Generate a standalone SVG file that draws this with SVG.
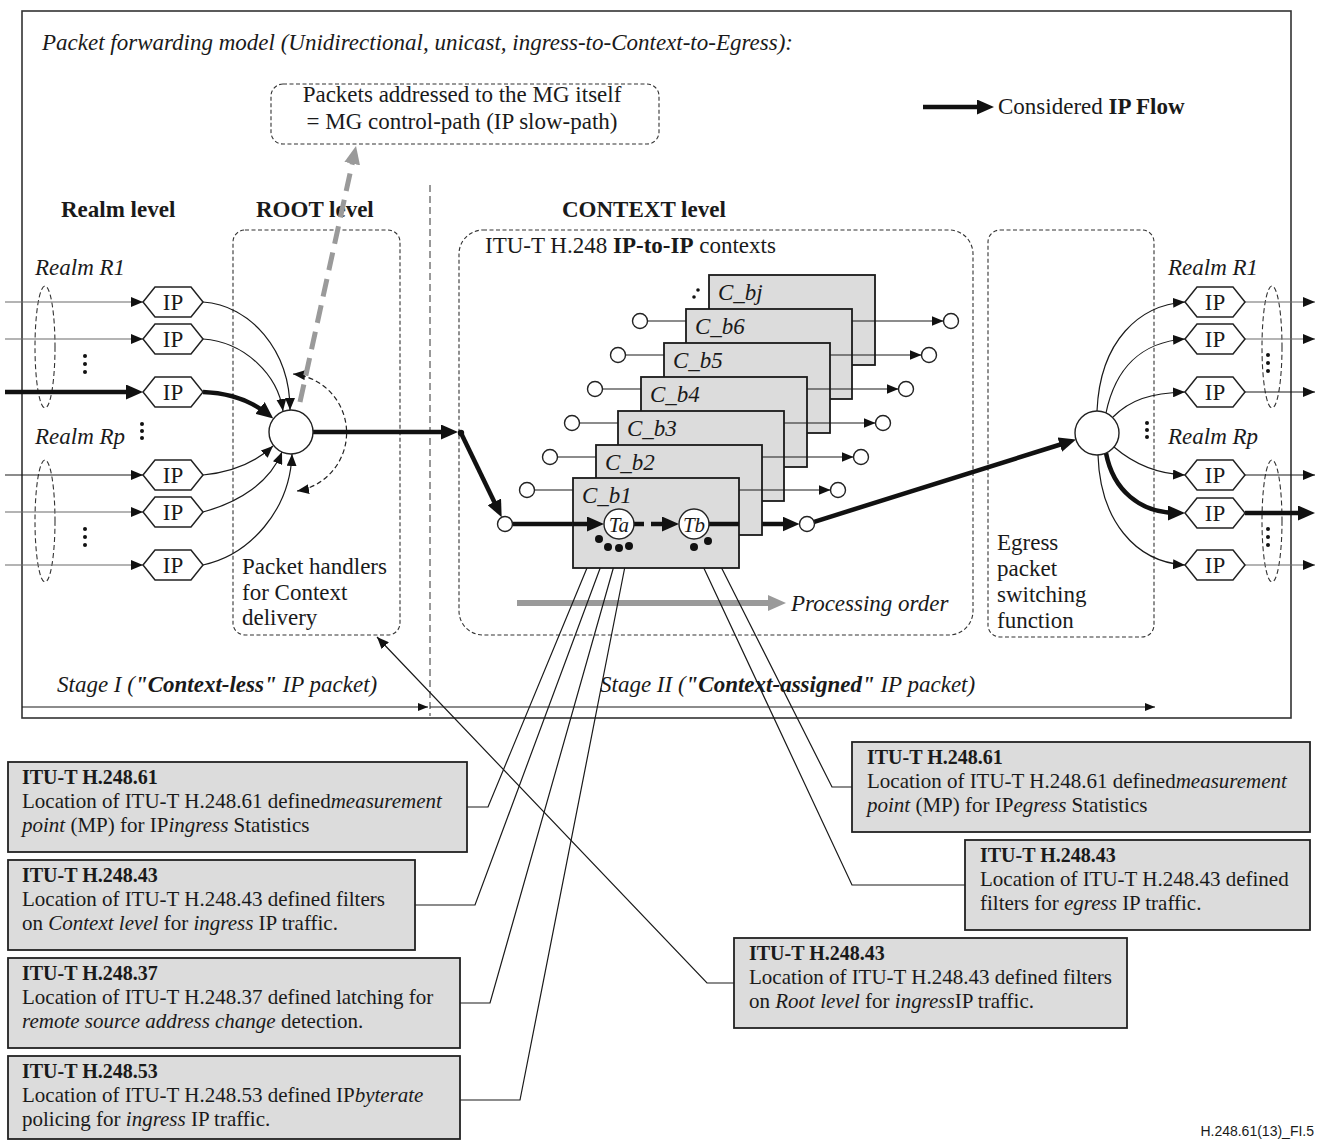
<svg xmlns="http://www.w3.org/2000/svg" width="1317" height="1142" viewBox="0 0 1317 1142">
<defs>
<style>
text{font-family:"Liberation Serif","Times New Roman",serif;fill:#1a1a1a}
.f{font-size:23px}
.s{font-size:21px}
.h{font-size:20px;font-weight:bold}
.i{font-style:italic}
.b{font-weight:bold}
.ln{fill:none;stroke:#1a1a1a;stroke-width:1.2}
.gr{stroke:#6a6a6a}
.tk{fill:none;stroke:#111;stroke-width:4.5}
.dsh{fill:none;stroke:#222;stroke-width:1.2;stroke-dasharray:5 3}
.hex{fill:#fff;stroke:#222;stroke-width:1.5}
.ctx{fill:#dcdcdc;stroke:#1a1a1a;stroke-width:1.8}
.note{fill:#dcdcdc;stroke:#222;stroke-width:1.8}
.pc{fill:#fff;stroke:#222;stroke-width:1.4}
.dot{fill:#111}
</style>
<marker id="a" viewBox="0 0 12 10" refX="12" refY="5" markerWidth="12" markerHeight="10" markerUnits="userSpaceOnUse" orient="auto-start-reverse"><path d="M0,0L12,5L0,10z" fill="#111"/></marker>
<marker id="as" viewBox="0 0 10 8" refX="10" refY="4" markerWidth="10" markerHeight="8" markerUnits="userSpaceOnUse" orient="auto"><path d="M0,0L10,4L0,8z" fill="#111"/></marker>
<marker id="ak" viewBox="0 0 17 15" refX="9" refY="7.5" markerWidth="17" markerHeight="15" markerUnits="userSpaceOnUse" orient="auto"><path d="M0,0L17,7.5L0,15z" fill="#111"/></marker>
<marker id="ag" viewBox="0 0 18 16" refX="9" refY="8" markerWidth="18" markerHeight="16" markerUnits="userSpaceOnUse" orient="auto"><path d="M0,0L18,8L0,16z" fill="#9a9a9a"/></marker>
</defs>
<rect width="1317" height="1142" fill="#fff"/>

<!-- frame -->
<rect x="22" y="11" width="1269" height="707" fill="none" stroke="#333" stroke-width="1.6"/>
<line x1="430" y1="185" x2="430" y2="716" stroke="#333" stroke-width="1" stroke-dasharray="7 4"/>

<!-- headings -->
<text x="42" y="50" class="f i">Packet forwarding model (Unidirectional, unicast, ingress-to-Context-to-Egress):</text>
<text x="61" y="217" class="f b">Realm level</text>
<text x="256" y="217" class="f b">ROOT level</text>
<text x="562" y="217" class="f b">CONTEXT level</text>
<text x="35" y="275" class="f i">Realm R1</text>
<text x="35" y="444" class="f i">Realm Rp</text>
<text x="1168" y="275" class="f i">Realm R1</text>
<text x="1168" y="444" class="f i">Realm Rp</text>

<!-- legend -->
<g id="legend">
<line x1="923" y1="107" x2="986" y2="107" class="tk" marker-end="url(#ak)"/>
<text x="998" y="114" class="f">Considered <tspan class="b">IP Flow</tspan></text>
</g>

<!-- control-path box -->
<g id="mgControl">
<rect x="271" y="84" width="388" height="60" rx="12" fill="none" stroke="#333" stroke-width="1.1" stroke-dasharray="4 2.5"/>
<text x="462" y="102" class="f" text-anchor="middle">Packets addressed to the MG itself</text>
<text x="462" y="129" class="f" text-anchor="middle">= MG control-path (IP slow-path)</text>
</g>

<!-- level boxes -->
<g id="rootBox">
<rect x="233" y="230" width="167" height="405" rx="12" fill="none" stroke="#333" stroke-width="1.1" stroke-dasharray="4 2.5"/>
<text x="242" y="574" class="f">Packet handlers</text>
<text x="242" y="600" class="f">for Context</text>
<text x="242" y="625" class="f">delivery</text>
</g>
<g id="contextBox">
<rect x="459" y="230" width="514" height="405" rx="24" fill="none" stroke="#333" stroke-width="1.1" stroke-dasharray="4 2.5"/>
<text x="485" y="253" class="f">ITU-T H.248 <tspan class="b">IP-to-IP</tspan> contexts</text>
</g>
<g id="egressBox">
<rect x="988" y="230" width="166" height="407" rx="12" fill="none" stroke="#333" stroke-width="1.1" stroke-dasharray="4 2.5"/>
<text x="997" y="550" class="f">Egress</text>
<text x="997" y="576" class="f">packet</text>
<text x="997" y="602" class="f">switching</text>
<text x="997" y="628" class="f">function</text>
</g>

<!-- realm ellipses and dots -->
<g id="realmGroups" fill="none" stroke="#333" stroke-width="1.1" stroke-dasharray="5 3">
<ellipse cx="45" cy="347" rx="10" ry="61"/>
<ellipse cx="45" cy="521" rx="10" ry="61"/>
<ellipse cx="1272" cy="347" rx="10" ry="61"/>
<ellipse cx="1272" cy="521" rx="10" ry="61"/>
</g>
<g id="ellipsisDots" class="dot">
<circle cx="85" cy="356" r="2"/><circle cx="85" cy="364" r="2"/><circle cx="85" cy="372" r="2"/>
<circle cx="85" cy="529" r="2"/><circle cx="85" cy="537" r="2"/><circle cx="85" cy="545" r="2"/>
<circle cx="142" cy="424" r="2"/><circle cx="142" cy="431" r="2"/><circle cx="142" cy="438" r="2"/>
<circle cx="1268" cy="355" r="2"/><circle cx="1268" cy="363" r="2"/><circle cx="1268" cy="371" r="2"/>
<circle cx="1268" cy="529" r="2"/><circle cx="1268" cy="537" r="2"/><circle cx="1268" cy="545" r="2"/>
<circle cx="1147" cy="423" r="2"/><circle cx="1147" cy="430" r="2"/><circle cx="1147" cy="437" r="2"/>
<circle cx="694" cy="297" r="1.8"/><circle cx="698" cy="290" r="1.8"/>
</g>

<!-- connectors -->
<g id="connectors">
<!-- left inputs -->
<line x1="5" y1="302" x2="143" y2="302" class="ln gr" marker-end="url(#a)"/>
<line x1="5" y1="339" x2="143" y2="339" class="ln gr" marker-end="url(#a)"/>
<line x1="5" y1="392" x2="135" y2="392" class="tk" marker-end="url(#ak)"/>
<line x1="5" y1="475" x2="143" y2="475" class="ln" marker-end="url(#a)"/>
<line x1="5" y1="512" x2="143" y2="512" class="ln gr" marker-end="url(#a)"/>
<line x1="5" y1="565" x2="143" y2="565" class="ln gr" marker-end="url(#a)"/>
<!-- left hex to root handler -->
<path d="M203,302 C250,305 290,350 290,410" class="ln" marker-end="url(#a)"/>
<path d="M203,339 C245,342 278,375 283,411" class="ln" marker-end="url(#a)"/>
<path d="M203,392 C228,393 250,400 267,413.6" class="tk" marker-end="url(#ak)"/>
<path d="M203,475 C235,472 258,460 273,446" class="ln" marker-end="url(#a)"/>
<path d="M203,512 C240,502 270,482 282,452" class="ln" marker-end="url(#a)"/>
<path d="M203,565 C250,555 290,510 292,454" class="ln" marker-end="url(#a)"/>
<!-- dashed loop around root handler -->
<path d="M293,374 A59,59 0 0 1 297,491" class="dsh" marker-start="url(#a)" marker-end="url(#a)"/>
<!-- slow path -->
<line x1="300" y1="402" x2="354.1" y2="154.8" stroke="#9a9a9a" stroke-width="5" stroke-dasharray="18 9" marker-end="url(#ag)"/>
<!-- root to context -->
<line x1="313" y1="432" x2="450" y2="432" class="tk" marker-end="url(#ak)"/>
<line x1="461" y1="433" x2="498.2" y2="510" class="tk" stroke-width="3.5" marker-end="url(#ak)"/>
<!-- flow through C_b1 -->
<line x1="512.5" y1="524" x2="596" y2="524" class="tk" marker-end="url(#ak)"/>
<line x1="634" y1="524" x2="644" y2="524" class="tk"/>
<line x1="651" y1="524" x2="671" y2="524" class="tk" marker-end="url(#ak)"/>
<line x1="709" y1="524" x2="791.5" y2="524" class="tk" marker-end="url(#ak)"/>
<line x1="814.2" y1="521.8" x2="1068.4" y2="442" class="tk" stroke-width="3.5" marker-end="url(#ak)"/>
<!-- egress to right hexes -->
<path d="M1097,411 C1100,340 1140,305 1185,302" class="ln" marker-end="url(#a)"/>
<path d="M1106,413 C1115,370 1140,342 1185,339" class="ln" marker-end="url(#a)"/>
<path d="M1113,417 C1130,400 1150,393 1185,392" class="ln" marker-end="url(#a)"/>
<path d="M1114,447 C1135,465 1160,474 1185,475" class="ln" marker-end="url(#a)"/>
<path d="M1106,453 C1113,490 1140,513 1177,513" class="tk" stroke-width="3.5" marker-end="url(#ak)"/>
<path d="M1098,455 C1100,520 1135,562 1185,565" class="ln" marker-end="url(#a)"/>
<!-- right outputs -->
<line x1="1245" y1="302" x2="1315" y2="302" class="ln gr" marker-end="url(#a)"/>
<line x1="1245" y1="339" x2="1315" y2="339" class="ln gr" marker-end="url(#a)"/>
<line x1="1245" y1="392" x2="1315" y2="392" class="ln" marker-end="url(#a)"/>
<line x1="1245" y1="475" x2="1315" y2="475" class="ln" marker-end="url(#a)"/>
<line x1="1245" y1="513" x2="1307" y2="513" class="tk" marker-end="url(#ak)"/>
<line x1="1245" y1="565" x2="1315" y2="565" class="ln gr" marker-end="url(#a)"/>
<!-- processing order -->
<line x1="517" y1="603" x2="777" y2="603" stroke="#9a9a9a" stroke-width="6" marker-end="url(#ag)"/>
<!-- stage arrows -->
<line x1="22" y1="707" x2="428" y2="707" class="ln" marker-end="url(#as)"/>
<line x1="430" y1="707" x2="1155" y2="707" class="ln" marker-end="url(#as)"/>
<!-- leaders -->
<polyline points="467,807 488,807 599,539" class="ln"/>
<polyline points="415,905 475,905 608,547" class="ln"/>
<polyline points="460,1003 490,1003 619,548" class="ln"/>
<polyline points="460,1100 520,1100 629,546" class="ln"/>
<polyline points="852,787 832,787 708,541" class="ln"/>
<polyline points="965,885 852,885 694,547" class="ln"/>
<polyline points="734,983 707,983 377,637" class="ln" marker-end="url(#a)"/>
</g>

<!-- root and egress handlers -->
<g id="rootHandler"><circle cx="291" cy="432" r="22" class="pc"/></g>
<circle cx="461" cy="433" r="3.2" class="dot"/>
<g id="egressSwitch"><circle cx="1097" cy="433" r="22" class="pc"/></g>

<!-- IP hexagons left -->
<g id="ipL1"><polygon class="hex" points="143,302 155,287 191,287 203,302 191,317 155,317"/><text x="173" y="310" class="f" text-anchor="middle">IP</text></g>
<g id="ipL2"><polygon class="hex" points="143,339 155,324 191,324 203,339 191,354 155,354"/><text x="173" y="347" class="f" text-anchor="middle">IP</text></g>
<g id="ipL3"><polygon class="hex" points="143,392 155,377 191,377 203,392 191,407 155,407"/><text x="173" y="400" class="f" text-anchor="middle">IP</text></g>
<g id="ipL4"><polygon class="hex" points="143,475 155,460 191,460 203,475 191,490 155,490"/><text x="173" y="483" class="f" text-anchor="middle">IP</text></g>
<g id="ipL5"><polygon class="hex" points="143,512 155,497 191,497 203,512 191,527 155,527"/><text x="173" y="520" class="f" text-anchor="middle">IP</text></g>
<g id="ipL6"><polygon class="hex" points="143,565 155,550 191,550 203,565 191,580 155,580"/><text x="173" y="573" class="f" text-anchor="middle">IP</text></g>
<!-- IP hexagons right -->
<g id="ipR1"><polygon class="hex" points="1185,302 1197,287 1233,287 1245,302 1233,317 1197,317"/><text x="1215" y="310" class="f" text-anchor="middle">IP</text></g>
<g id="ipR2"><polygon class="hex" points="1185,339 1197,324 1233,324 1245,339 1233,354 1197,354"/><text x="1215" y="347" class="f" text-anchor="middle">IP</text></g>
<g id="ipR3"><polygon class="hex" points="1185,392 1197,377 1233,377 1245,392 1233,407 1197,407"/><text x="1215" y="400" class="f" text-anchor="middle">IP</text></g>
<g id="ipR4"><polygon class="hex" points="1185,475 1197,460 1233,460 1245,475 1233,490 1197,490"/><text x="1215" y="483" class="f" text-anchor="middle">IP</text></g>
<g id="ipR5"><polygon class="hex" points="1185,513 1197,498 1233,498 1245,513 1233,528 1197,528"/><text x="1215" y="521" class="f" text-anchor="middle">IP</text></g>
<g id="ipR6"><polygon class="hex" points="1185,565 1197,550 1233,550 1245,565 1233,580 1197,580"/><text x="1215" y="573" class="f" text-anchor="middle">IP</text></g>

<!-- context stack (back to front) -->
<g id="ctx_bj"><rect x="709" y="275" width="166" height="90" class="ctx"/><text x="718" y="300" class="f i">C_bj</text></g>
<g id="ctx_b6"><rect x="686" y="309" width="166" height="90" class="ctx"/><text x="695" y="334" class="f i">C_b6</text>
<circle cx="640" cy="321" r="7.5" class="pc"/><line x1="647.5" y1="321" x2="686" y2="321" class="ln"/><line x1="852" y1="321" x2="943.5" y2="321" class="ln" marker-end="url(#a)"/><circle cx="951" cy="321" r="7.5" class="pc"/></g>
<g id="ctx_b5"><rect x="664" y="343" width="166" height="90" class="ctx"/><text x="673" y="368" class="f i">C_b5</text>
<circle cx="618" cy="355" r="7.5" class="pc"/><line x1="625.5" y1="355" x2="664" y2="355" class="ln"/><line x1="830" y1="355" x2="921.5" y2="355" class="ln" marker-end="url(#a)"/><circle cx="929" cy="355" r="7.5" class="pc"/></g>
<g id="ctx_b4"><rect x="641" y="377" width="166" height="90" class="ctx"/><text x="650" y="402" class="f i">C_b4</text>
<circle cx="595" cy="389" r="7.5" class="pc"/><line x1="602.5" y1="389" x2="641" y2="389" class="ln"/><line x1="807" y1="389" x2="898.5" y2="389" class="ln" marker-end="url(#a)"/><circle cx="906" cy="389" r="7.5" class="pc"/></g>
<g id="ctx_b3"><rect x="618" y="411" width="166" height="90" class="ctx"/><text x="627" y="436" class="f i">C_b3</text>
<circle cx="572" cy="423" r="7.5" class="pc"/><line x1="579.5" y1="423" x2="618" y2="423" class="ln"/><line x1="784" y1="423" x2="875.5" y2="423" class="ln" marker-end="url(#a)"/><circle cx="883" cy="423" r="7.5" class="pc"/></g>
<g id="ctx_b2"><rect x="596" y="445" width="166" height="90" class="ctx"/><text x="605" y="470" class="f i">C_b2</text>
<circle cx="550" cy="457" r="7.5" class="pc"/><line x1="557.5" y1="457" x2="596" y2="457" class="ln"/><line x1="762" y1="457" x2="853.5" y2="457" class="ln" marker-end="url(#a)"/><circle cx="861" cy="457" r="7.5" class="pc"/></g>
<g id="ctx_b1"><rect x="573" y="478" width="166" height="90" class="ctx"/><text x="582" y="503" class="f i">C_b1</text>
<circle cx="527" cy="490" r="7.5" class="pc"/><line x1="534.5" y1="490" x2="573" y2="490" class="ln"/><line x1="739" y1="490" x2="830.5" y2="490" class="ln" marker-end="url(#a)"/><circle cx="838" cy="490" r="7.5" class="pc"/></g>

<!-- C_b1 flow elements (redrawn on top) -->
<g id="flowOverlay">
<line x1="573" y1="524" x2="596" y2="524" class="tk" marker-end="url(#ak)"/>
<line x1="634" y1="524" x2="644" y2="524" class="tk"/>
<line x1="651" y1="524" x2="671" y2="524" class="tk" marker-end="url(#ak)"/>
<line x1="709" y1="524" x2="739" y2="524" class="tk"/>
</g>
<g id="inCircle"><circle cx="505" cy="524" r="7.5" class="pc"/></g>
<g id="outCircle"><circle cx="807" cy="524" r="7.5" class="pc"/></g>
<g id="termTa"><circle cx="619" cy="524" r="15" class="pc"/><text x="619" y="532" class="f i" text-anchor="middle" style="font-size:21px">Ta</text></g>
<g id="termTb"><circle cx="694" cy="524" r="15" class="pc"/><text x="694" y="532" class="f i" text-anchor="middle" style="font-size:21px">Tb</text></g>
<g id="mpDots" class="dot">
<circle cx="599" cy="539" r="4"/><circle cx="608" cy="547" r="4"/><circle cx="619" cy="548" r="4"/><circle cx="629" cy="546" r="4"/>
<circle cx="694" cy="547" r="4"/><circle cx="708" cy="541" r="4"/>
</g>

<text x="791" y="611" class="f i">Processing order</text>

<!-- stage labels -->
<text x="57" y="692" class="f i">Stage I (<tspan class="b">"Context-less"</tspan> IP packet)</text>
<text x="600" y="692" class="f i">Stage II (<tspan class="b">"Context-assigned"</tspan> IP packet)</text>

<!-- note boxes -->
<g id="note61in"><rect x="8" y="762" width="459" height="90" class="note"/>
<text x="22" y="784" class="h">ITU-T H.248.61</text>
<text x="22" y="808" class="s">Location of ITU-T H.248.61 defined<tspan class="i">measurement</tspan></text>
<text x="22" y="832" class="s"><tspan class="i">point</tspan> (MP) for IP<tspan class="i">ingress</tspan>  Statistics</text></g>
<g id="note43ctx"><rect x="8" y="860" width="407" height="90" class="note"/>
<text x="22" y="882" class="h">ITU-T H.248.43</text>
<text x="22" y="906" class="s">Location of ITU-T H.248.43 defined filters</text>
<text x="22" y="930" class="s">on <tspan class="i">Context level</tspan> for <tspan class="i">ingress</tspan> IP traffic.</text></g>
<g id="note37"><rect x="8" y="958" width="452" height="90" class="note"/>
<text x="22" y="980" class="h">ITU-T H.248.37</text>
<text x="22" y="1004" class="s">Location of ITU-T H.248.37 defined latching for</text>
<text x="22" y="1028" class="s"><tspan class="i">remote source address change</tspan> detection.</text></g>
<g id="note53"><rect x="8" y="1056" width="452" height="83" class="note"/>
<text x="22" y="1078" class="h">ITU-T H.248.53</text>
<text x="22" y="1102" class="s">Location of ITU-T H.248.53 defined IP<tspan class="i">byterate</tspan></text>
<text x="22" y="1126" class="s">policing for <tspan class="i">ingress</tspan> IP traffic.</text></g>
<g id="note61eg"><rect x="852" y="742" width="458" height="90" class="note"/>
<text x="867" y="764" class="h">ITU-T H.248.61</text>
<text x="867" y="788" class="s">Location of ITU-T H.248.61 defined<tspan class="i">measurement</tspan></text>
<text x="867" y="812" class="s"><tspan class="i">point</tspan> (MP) for IP<tspan class="i">egress</tspan>  Statistics</text></g>
<g id="note43eg"><rect x="965" y="840" width="345" height="90" class="note"/>
<text x="980" y="862" class="h">ITU-T H.248.43</text>
<text x="980" y="886" class="s">Location of ITU-T H.248.43 defined</text>
<text x="980" y="910" class="s">filters for <tspan class="i">egress</tspan>  IP traffic.</text></g>
<g id="note43root"><rect x="734" y="938" width="393" height="90" class="note"/>
<text x="749" y="960" class="h">ITU-T H.248.43</text>
<text x="749" y="984" class="s">Location of ITU-T H.248.43 defined filters</text>
<text x="749" y="1008" class="s">on <tspan class="i">Root level</tspan> for <tspan class="i">ingress</tspan>IP traffic.</text></g>

<text x="1314" y="1136" text-anchor="end" style="font-family:'Liberation Sans',Arial,sans-serif;font-size:14px">H.248.61(13)_FI.5</text>
</svg>
